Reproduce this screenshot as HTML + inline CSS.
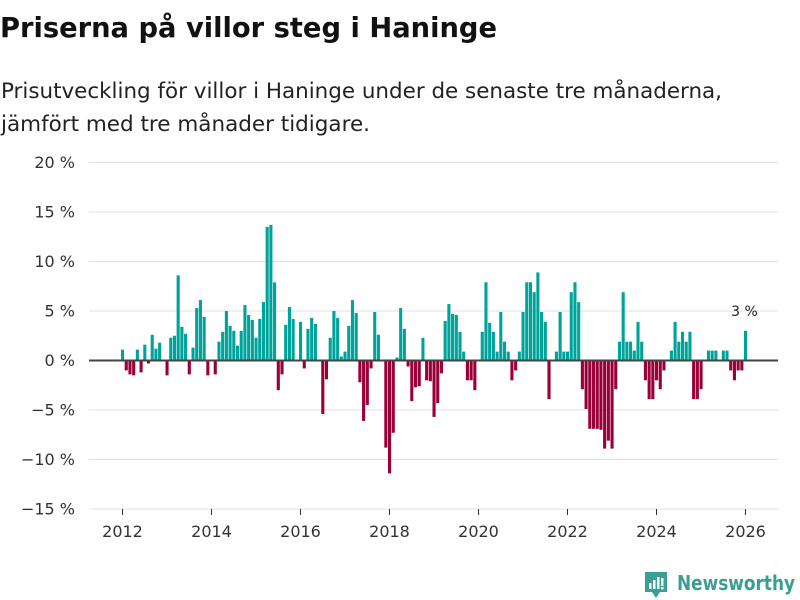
<!DOCTYPE html>
<html><head><meta charset="utf-8">
<style>
html,body{margin:0;padding:0;background:#fff;width:800px;height:600px;overflow:hidden}
svg{display:block;font-family:"DejaVu Sans","Liberation Sans",sans-serif}
</style></head>
<body>
<svg id="chart" width="800" height="600" viewBox="0 0 800 600">
  <text x="0" y="37" font-size="28" font-weight="bold" fill="#111" textLength="497" lengthAdjust="spacingAndGlyphs">Priserna på villor steg i Haninge</text>
  <text x="1" y="98" font-size="21" fill="#222" textLength="721" lengthAdjust="spacingAndGlyphs">Prisutveckling för villor i Haninge under de senaste tre månaderna,</text>
  <text x="1" y="131" font-size="21" fill="#222" textLength="369" lengthAdjust="spacingAndGlyphs">jämfört med tre månader tidigare.</text>
  <g id="grid"></g>
  <g id="yticks"></g>
  <g id="xticks"></g>
  <g id="bars"></g>
  <line id="zero" x1="89" x2="778" stroke="#444" stroke-width="2"/>
  <text id="lastlabel" font-size="14" fill="#222" text-anchor="middle"></text>
  <g>
    <path d="M645 572 h22 v20 h-7 l-4 6 l-4 -6 h-7 z" fill="#3a9e94"/>
    <rect x="649" y="583" width="2.5" height="6" fill="#fff"/>
    <rect x="653" y="580" width="2.5" height="9" fill="#fff"/>
    <rect x="657" y="577" width="2.5" height="12" fill="#fff"/>
    <rect x="661" y="578" width="2.5" height="8" fill="#fff"/>
    <rect x="661" y="587" width="2.5" height="2.5" fill="#fff"/>
    <text x="677" y="590" font-size="20" font-weight="bold" fill="#3a9e94" textLength="118" lengthAdjust="spacingAndGlyphs">Newsworthy</text>
  </g>
</svg>
<script>
const values = [1.1,-1.0,-1.4,-1.5,1.1,-1.2,1.6,-0.3,2.6,1.2,1.8,0,
-1.5,2.3,2.5,8.6,3.4,2.7,-1.4,1.3,5.3,6.1,4.4,-1.5,
0,-1.4,1.9,2.9,5.0,3.5,3.0,1.5,3.0,5.6,4.6,4.1,
2.3,4.2,5.9,13.5,13.7,7.9,-3.0,-1.4,3.6,5.4,4.2,0,
3.9,-0.8,3.2,4.3,3.7,0.1,-5.4,-1.9,2.3,5.0,4.3,0.4,
0.9,3.5,6.1,4.8,-2.2,-6.1,-4.5,-0.8,4.9,2.6,0,-8.8,
-11.4,-7.3,0.3,5.3,3.2,-0.6,-4.1,-2.7,-2.6,2.3,-2.0,-2.1,
-5.7,-4.3,-1.3,4.0,5.7,4.7,4.6,2.9,0.9,-2.0,-2.0,-3.0,
0,2.9,7.9,3.8,2.9,0.9,4.9,1.9,0.9,-2.0,-1.0,0.9,
4.9,7.9,7.9,6.9,8.9,4.9,3.9,-3.9,0,0.9,4.9,0.9,
0.9,6.9,7.9,5.9,-2.9,-4.9,-6.9,-6.9,-6.9,-7.0,-8.9,-8.1,
-8.9,-2.9,1.9,6.9,1.9,1.9,1.0,3.9,1.9,-2.0,-3.9,-3.9,
-2.0,-2.9,-1.0,0,1.0,3.9,1.9,2.9,1.9,2.9,-3.9,-3.9,
-2.9,0,1,1,1,0,1,1,-1,-2,-1,-1,
3];
const startYear = 2012;
const yTicks = [20,15,10,5,0,-5,-10,-15];
const xTicks = [2012,2014,2016,2018,2020,2022,2024,2026];

const NS='http://www.w3.org/2000/svg';
const Y0=360.5, PXPER=9.9;
const X0=122.5, PXMONTH=(745-122)/168;
function y(v){return Y0 - v*PXPER;}
function xm(i){return X0 + i*PXMONTH;}
function xyear(yr){return X0 + (yr-startYear)*12*PXMONTH;}
function mk(tag,attrs,parent){const e=document.createElementNS(NS,tag);for(const k in attrs)e.setAttribute(k,attrs[k]);parent.appendChild(e);return e;}

const grid=document.getElementById('grid'), yt=document.getElementById('yticks'), xt=document.getElementById('xticks'), bars=document.getElementById('bars');
yTicks.forEach(t=>{
  const l=mk('line',{x1:89,x2:778,y1:y(t),y2:y(t),stroke:'#e0e0e0','stroke-width':1},grid);
  
  
  const tx=mk('text',{x:75,y:y(t)+5.5,'font-size':16,fill:'#333','text-anchor':'end'},yt);
  tx.textContent=(t<0?'\u2212'+(-t):t)+' %';
  
  
});
xTicks.forEach(yr=>{
  const x=xyear(yr);
  const tk=mk('line',{x1:x,x2:x,y1:509,y2:515,stroke:'#333','stroke-width':1},xt);
  
  
  const tx=mk('text',{x:x,y:537,'font-size':16,fill:'#333','text-anchor':'middle'},xt);
  tx.textContent=yr;
  
  
});
values.forEach((v,i)=>{
  if(v===0)return;
  const top=Math.min(y(v),Y0), h=Math.abs(y(v)-Y0);
  const r=mk('rect',{x:xm(i)-1.5,y:top,width:3.1,height:h,fill:v>0?'#00a39a':'#990038'},bars);
  
  
});
const z=document.getElementById('zero'); z.setAttribute('y1',Y0); z.setAttribute('y2',Y0);
const last=values.length-1, ll=document.getElementById('lastlabel');
ll.setAttribute('x',xm(last)-1); ll.setAttribute('y',y(values[last])-15);
ll.textContent=Math.round(values[last])+' %';
</script>
</body></html>
